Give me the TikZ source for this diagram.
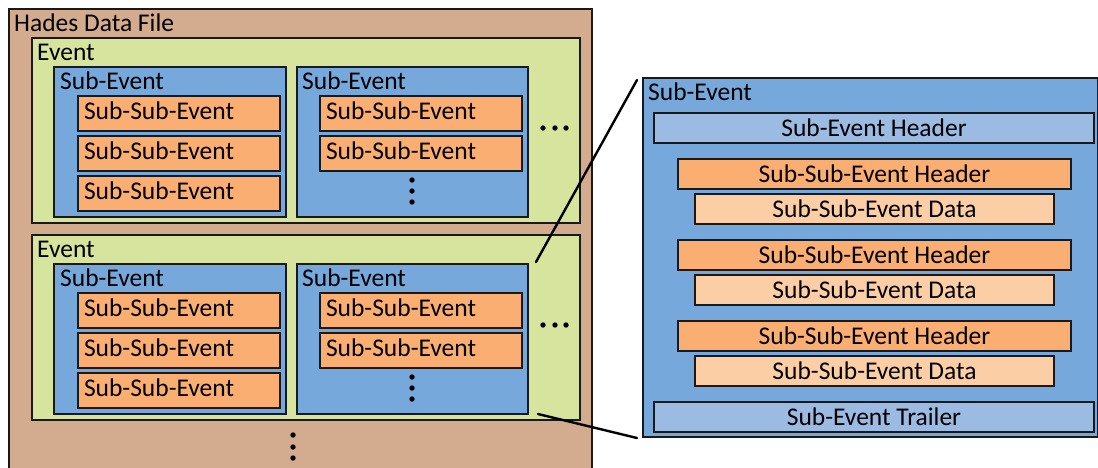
\documentclass[tikz,border=0pt]{standalone}
\usepackage{fontspec}
\setmainfont{Carlito}
\usetikzlibrary{positioning}

\definecolor{filebrown}{RGB}{211,171,142}
\definecolor{eventgreen}{RGB}{215,228,158}
\definecolor{subblue}{RGB}{119,168,219}
\definecolor{ssorange}{RGB}{250,174,113}
\definecolor{hdrblue}{RGB}{156,187,227}
\definecolor{dataorange}{RGB}{252,206,166}

\tikzset{
  box/.style={draw=black!90, line width=2pt, anchor=north west, inner sep=0pt},
  title/.style={anchor=base west, inner sep=0pt},
  sebox/.style={box, fill=subblue, minimum width=232pt, minimum height=150pt},
  ssbox/.style={box, fill=ssorange, minimum width=202pt, minimum height=35pt,
    text width=190pt, inner xsep=6pt, align=left, text height=15pt, text depth=4pt},
  hdrbox/.style={box, fill=hdrblue, minimum height=30pt, text height=17.5pt, text depth=1pt},
  zoomline/.style={line width=2.4pt, line cap=round}
}

\begin{document}
\begin{tikzpicture}[x=1pt, y=-1pt, font=\fontsize{25.5}{30}\selectfont]
\useasboundingbox (0,0) rectangle (1098,467);
% data file with two events
\node[box, fill=filebrown, minimum width=583pt, minimum height=475pt] (file) at (8,8) {};
\node[title] (file-t) at (14,31.5) {Hades Data File};
\foreach \e/\dy in {1/0, 2/197}{
  \node[box, fill=eventgreen, minimum width=548pt, minimum height=185pt] (ev\e) at (31,37+\dy) {};
  \node[title] (ev\e-t) at (37,60+\dy) {Event};
  \node[sebox] (se\e1) at (53,66+\dy) {};
  \node[title] (se\e1-t) at (60,89+\dy) {Sub-Event};
  \node[sebox, minimum width=231pt] (se\e2) at (296,66+\dy) {};
  \node[title] (se\e2-t) at (302,89+\dy) {Sub-Event};
  \foreach \s/\sy in {1/95, 2/135, 3/175}
    \node[ssbox] (sse\e1\s) at (77,\sy+\dy) {Sub-Sub-Event};
  \foreach \s/\sy in {1/95, 2/135}
    \node[ssbox] (sse\e2\s) at (319,\sy+\dy) {Sub-Sub-Event};
  \foreach \d in {180,191,202} \fill (412,\d+\dy) circle (2.7pt);
  \foreach \d in {543,555,566} \fill (\d,128+\dy) circle (2.7pt);
}
\foreach \d in {435,447,458} \fill (293,\d) circle (2.7pt);

% zoomed sub-event
\node[box, fill=subblue, minimum width=455pt, minimum height=359pt] (zoom) at (642,77) {};
\node[title] (zoom-t) at (648,100.5) {Sub-Event};
\node[hdrbox, minimum width=440pt] (seh) at (653,112) {Sub-Event Header};
\foreach \k/\ky in {1/158, 2/239, 3/320}{
  \node[hdrbox, fill=ssorange, minimum width=393pt] (sseh\k) at (677,\ky) {Sub-Sub-Event Header};
  \node[hdrbox, fill=dataorange, minimum width=359pt] (ssed\k) at (694,\ky+35) {Sub-Sub-Event Data};
}
\node[hdrbox, minimum width=440pt] (set) at (653,401) {Sub-Event Trailer};

\draw[zoomline] ([shift={(7,-1)}]se22.north east) -- ([shift={(-5,3)}]zoom.north west);
\draw[zoomline] ([shift={(9,-1)}]se22.south east) -- ([shift={(-5,0)}]zoom.south west);
\end{tikzpicture}
\end{document}
